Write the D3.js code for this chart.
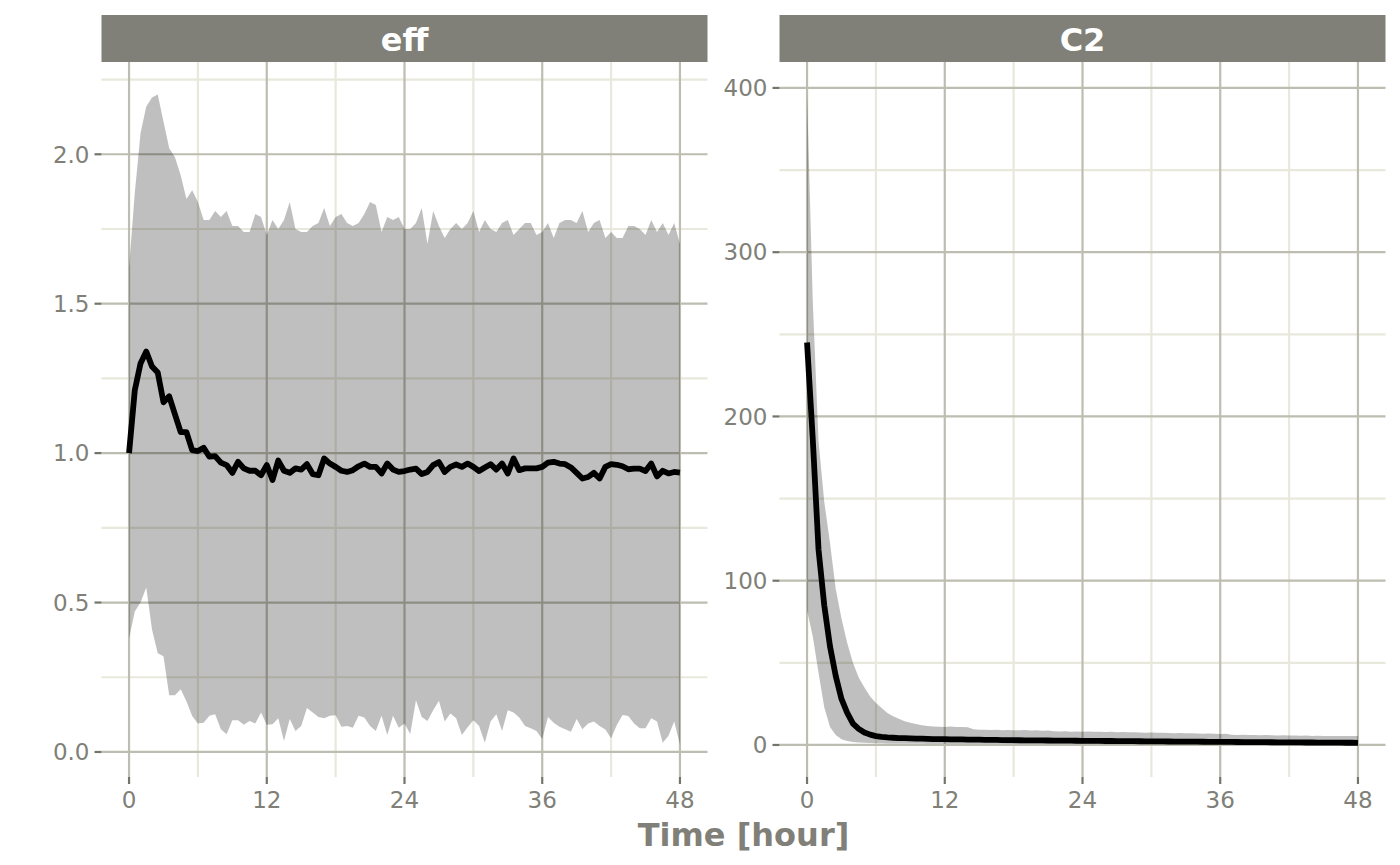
<!DOCTYPE html>
<html>
<head>
<meta charset="utf-8">
<script src="https://cdn.jsdelivr.net/npm/d3@7"></script>
<style>
  body { margin: 0; background: #ffffff; }
  text { font-family: "DejaVu Sans", sans-serif; }
</style>
</head>
<body>
<div id="wrapper"></div>
<script>
// sampling grid (hours)
const timeHours = d3.range(0, 48.5, 0.5)

// eff panel: 90% band and median, one row = 6 hours
const effUpper = [
  1.62, 1.87, 2.07, 2.16, 2.19, 2.20, 2.11, 2.02, 1.99, 1.93, 1.85, 1.88,
  1.84, 1.78, 1.78, 1.81, 1.79, 1.81, 1.76, 1.76, 1.74, 1.74, 1.80, 1.79,
  1.73, 1.78, 1.75, 1.78, 1.84, 1.75, 1.74, 1.74, 1.76, 1.77, 1.82, 1.76,
  1.79, 1.80, 1.77, 1.76, 1.77, 1.80, 1.84, 1.83, 1.74, 1.79, 1.78, 1.79,
  1.75, 1.75, 1.77, 1.82, 1.70, 1.81, 1.76, 1.72, 1.75, 1.77, 1.75, 1.77,
  1.81, 1.74, 1.78, 1.75, 1.74, 1.77, 1.78, 1.73, 1.75, 1.77, 1.77, 1.73,
  1.74, 1.77, 1.72, 1.77, 1.78, 1.78, 1.77, 1.81, 1.74, 1.77, 1.78, 1.72,
  1.74, 1.72, 1.72, 1.76, 1.76, 1.75, 1.73, 1.78, 1.74, 1.77, 1.73, 1.77,
  1.70
]
const effMedian = [
  1.00, 1.21, 1.30, 1.34, 1.29, 1.27, 1.17, 1.19, 1.13, 1.07, 1.07, 1.01,
  1.007, 1.018, 0.988, 0.990, 0.968, 0.960, 0.934, 0.971, 0.949, 0.941, 0.941, 0.926,
  0.960, 0.910, 0.975, 0.941, 0.934, 0.949, 0.945, 0.963, 0.930, 0.926, 0.982, 0.965,
  0.954, 0.941, 0.937, 0.943, 0.956, 0.965, 0.954, 0.954, 0.932, 0.965, 0.945, 0.937,
  0.940, 0.945, 0.948, 0.930, 0.937, 0.960, 0.970, 0.937, 0.954, 0.962, 0.954, 0.965,
  0.954, 0.940, 0.952, 0.963, 0.945, 0.965, 0.932, 0.982, 0.943, 0.949, 0.949, 0.949,
  0.954, 0.968, 0.971, 0.965, 0.963, 0.952, 0.934, 0.915, 0.920, 0.934, 0.915, 0.954,
  0.963, 0.961, 0.956, 0.946, 0.948, 0.948, 0.940, 0.965, 0.922, 0.941, 0.932, 0.937,
  0.935
]
const effLower = [
  0.38, 0.47, 0.50, 0.55, 0.41, 0.33, 0.32, 0.19, 0.19, 0.21, 0.17, 0.12,
  0.095, 0.098, 0.121, 0.126, 0.076, 0.059, 0.106, 0.106, 0.091, 0.104, 0.095, 0.132,
  0.091, 0.093, 0.113, 0.037, 0.110, 0.070, 0.087, 0.147, 0.132, 0.117, 0.113, 0.121,
  0.123, 0.084, 0.087, 0.081, 0.121, 0.115, 0.087, 0.070, 0.121, 0.057, 0.121, 0.081,
  0.095, 0.060, 0.173, 0.117, 0.104, 0.140, 0.171, 0.102, 0.129, 0.113, 0.057, 0.083,
  0.106, 0.087, 0.031, 0.102, 0.126, 0.070, 0.140, 0.132, 0.115, 0.087, 0.079, 0.070,
  0.043, 0.117, 0.098, 0.084, 0.076, 0.068, 0.110, 0.076, 0.095, 0.102, 0.087, 0.075,
  0.046, 0.090, 0.124, 0.120, 0.095, 0.079, 0.079, 0.113, 0.102, 0.031, 0.054, 0.102,
  0.025
]

// C2 panel
const c2Upper = [
  396, 270, 185, 148, 123, 95, 77, 62, 50, 41, 35, 29.5,
  25.5, 22.5, 19.5, 17.5, 16, 14.5, 13.5, 12.8, 12, 11.5, 11.2, 11.1,
  11.0, 11.2, 10.9, 11.0, 10.8, 9.6, 9.2, 9.3, 9.1, 9.2, 9.0, 9.1,
  9.0, 8.9, 9.1, 8.8, 8.9, 8.7, 8.8, 8.4, 8.2, 8.3, 8.1, 8.2,
  8.1, 8.2, 8.0, 8.1, 7.9, 8.0, 7.8, 7.9, 7.7, 7.8, 7.6, 7.5,
  7.6, 7.4, 7.5, 7.3, 7.2, 7.3, 7.1, 7.2, 7.0, 6.9, 7.0, 6.8,
  6.7, 6.8, 6.2, 6.1, 6.2, 6.0, 6.1, 5.9, 6.0, 5.9, 5.8, 5.9,
  5.7, 5.8, 5.6, 5.7, 5.5, 5.6, 5.5, 5.4, 5.5, 5.4, 5.5, 5.4,
  5.4
]
const c2Median = [
  245, 186, 119, 85, 60, 42, 28, 19.5, 13, 9.8, 7.6, 6.3,
  5.4, 4.9, 4.6, 4.4, 4.2, 4.1, 4.0, 3.9, 3.8, 3.7, 3.6, 3.55,
  3.5, 3.45, 3.4, 3.35, 3.3, 3.25, 3.2, 3.15, 3.1, 3.05, 3.0, 2.95,
  2.9, 2.87, 2.84, 2.81, 2.78, 2.75, 2.72, 2.69, 2.66, 2.63, 2.6, 2.57,
  2.54, 2.51, 2.48, 2.45, 2.42, 2.4, 2.37, 2.34, 2.31, 2.28, 2.25, 2.23,
  2.2, 2.17, 2.14, 2.12, 2.09, 2.06, 2.03, 2.0, 1.98, 1.95, 1.92, 1.9,
  1.87, 1.85, 1.82, 1.8, 1.77, 1.75, 1.72, 1.7, 1.67, 1.65, 1.62, 1.6,
  1.58, 1.56, 1.53, 1.51, 1.49, 1.47, 1.45, 1.42, 1.4, 1.38, 1.36, 1.34,
  1.32
]
const c2Lower = [
  82, 66, 44, 23, 11, 6, 3.5, 2.4, 1.8, 1.5, 1.3, 1.15,
  1.05, 1.0, 0.95, 0.92, 0.9, 0.88, 0.86, 0.84, 0.82, 0.8, 0.79, 0.78,
  0.77, 0.76, 0.75, 0.74, 0.73, 0.72, 0.71, 0.7, 0.69, 0.68, 0.67, 0.66,
  0.65, 0.64, 0.63, 0.62, 0.61, 0.6, 0.59, 0.58, 0.57, 0.56, 0.55, 0.54,
  0.54, 0.53, 0.52, 0.51, 0.5, 0.5, 0.49, 0.48, 0.47, 0.47, 0.46, 0.45,
  0.45, 0.44, 0.43, 0.43, 0.42, 0.41, 0.41, 0.4, 0.4, 0.39, 0.38, 0.38,
  0.37, 0.37, 0.36, 0.36, 0.35, 0.35, 0.34, 0.34, 0.33, 0.33, 0.33, 0.32,
  0.32, 0.31, 0.31, 0.31, 0.3, 0.3, 0.3, 0.29, 0.29, 0.29, 0.28, 0.28,
  0.28
]

// axes
const xTicks = [0, 12, 24, 36, 48]
const xMinorTicks = [6, 18, 30, 42]
const effYTicks = [0, 0.5, 1.0, 1.5, 2.0]
const effYMinorTicks = [0.25, 0.75, 1.25, 1.75, 2.25]
const c2YTicks = [0, 100, 200, 300, 400]
const c2YMinorTicks = [50, 150, 250, 350]
const panelNames = ["eff", "C2"]
const xTitle = "Time [hour]"

function drawChart() {

    const dimensions = {
        width: 1400,
        height: 865,
        stripTop: 15,
        panelTop: 62,
        panelBottom: 777,
        panelLefts: [101.5, 779.5],
        panelWidth: 606,
        tickLength: 7,
    }

    const colors = {
        strip: "#808078",
        text: "#808078",
        tick: "#74746c",
        major: "#bdbdb1",
        minor: "#e8e8dc",
    }

    const wrapper = d3.select("#wrapper")
        .append("svg")
        .attr("width", dimensions.width)
        .attr("height", dimensions.height)

    const panels = [
        { name: panelNames[0], upper: effUpper, median: effMedian, lower: effLower,
          ticks: effYTicks, minor: effYMinorTicks, format: d3.format(".1f") },
        { name: panelNames[1], upper: c2Upper, median: c2Median, lower: c2Lower,
          ticks: c2YTicks, minor: c2YMinorTicks, format: d3.format("d") },
    ]

    // ggplot style 5% expansion on x
    const xScaleBase = [0, 48]
    const xPad = (xScaleBase[1] - xScaleBase[0]) * 0.05

    panels.forEach((p, i) => {
        const left = dimensions.panelLefts[i]
        const right = left + dimensions.panelWidth

        const xScale = d3.scaleLinear()
            .domain([xScaleBase[0] - xPad, xScaleBase[1] + xPad])
            .range([left, right])

        const yMin = d3.min(p.lower)
        const yMax = d3.max(p.upper)
        const yPad = (yMax - yMin) * 0.05
        const yScale = d3.scaleLinear()
            .domain([yMin - yPad, yMax + yPad])
            .range([dimensions.panelBottom, dimensions.panelTop])

        const g = wrapper.append("g").attr("class", "panel-" + p.name)

        // grid
        g.selectAll(".minor-x")
            .data(xMinorTicks)
            .join("line")
            .attr("x1", d => xScale(d)).attr("x2", d => xScale(d))
            .attr("y1", dimensions.panelTop).attr("y2", dimensions.panelBottom)
            .attr("stroke", colors.minor).attr("stroke-width", 2.2)
        g.selectAll(".minor-y")
            .data(p.minor)
            .join("line")
            .attr("x1", left).attr("x2", right)
            .attr("y1", d => yScale(d)).attr("y2", d => yScale(d))
            .attr("stroke", colors.minor).attr("stroke-width", 2.2)
        g.selectAll(".major-x")
            .data(xTicks)
            .join("line")
            .attr("x1", d => xScale(d)).attr("x2", d => xScale(d))
            .attr("y1", dimensions.panelTop).attr("y2", dimensions.panelBottom)
            .attr("stroke", colors.major).attr("stroke-width", 2.2)
        g.selectAll(".major-y")
            .data(p.ticks)
            .join("line")
            .attr("x1", left).attr("x2", right)
            .attr("y1", d => yScale(d)).attr("y2", d => yScale(d))
            .attr("stroke", colors.major).attr("stroke-width", 2.2)

        const rows = timeHours.map((t, j) => ({
            t: t, lo: p.lower[j], hi: p.upper[j], mid: p.median[j]
        }))

        // ribbon
        const area = d3.area()
            .x(d => xScale(d.t))
            .y0(d => yScale(d.lo))
            .y1(d => yScale(d.hi))
        g.append("path")
            .datum(rows)
            .attr("d", area)
            .attr("fill", "#000000")
            .attr("fill-opacity", 0.25)

        // median line
        const line = d3.line()
            .x(d => xScale(d.t))
            .y(d => yScale(d.mid))
        g.append("path")
            .datum(rows)
            .attr("d", line)
            .attr("fill", "none")
            .attr("stroke", "#000000")
            .attr("stroke-width", 5.8)
            .attr("stroke-linejoin", "round")

        // y ticks and labels
        g.selectAll(".y-tick")
            .data(p.ticks)
            .join("line")
            .attr("x1", left - dimensions.tickLength).attr("x2", left)
            .attr("y1", d => yScale(d)).attr("y2", d => yScale(d))
            .attr("stroke", colors.tick).attr("stroke-width", 2.2)
        g.selectAll(".y-label")
            .data(p.ticks)
            .join("text")
            .attr("x", left - dimensions.tickLength - 5)
            .attr("y", d => yScale(d) + 8.3)
            .attr("text-anchor", "end")
            .attr("font-size", 23)
            .attr("fill", colors.text)
            .text(p.format)

        // x ticks and labels
        g.selectAll(".x-tick")
            .data(xTicks)
            .join("line")
            .attr("x1", d => xScale(d)).attr("x2", d => xScale(d))
            .attr("y1", dimensions.panelBottom)
            .attr("y2", dimensions.panelBottom + dimensions.tickLength)
            .attr("stroke", colors.tick).attr("stroke-width", 2.2)
        g.selectAll(".x-label")
            .data(xTicks)
            .join("text")
            .attr("x", d => xScale(d))
            .attr("y", dimensions.panelBottom + 31)
            .attr("text-anchor", "middle")
            .attr("font-size", 23)
            .attr("fill", colors.text)
            .text(d => d)

        // strip
        g.append("rect")
            .attr("x", left)
            .attr("y", dimensions.stripTop)
            .attr("width", dimensions.panelWidth)
            .attr("height", dimensions.panelTop - dimensions.stripTop)
            .attr("fill", colors.strip)
        g.append("text")
            .attr("x", (left + right) / 2)
            .attr("y", 51)
            .attr("text-anchor", "middle")
            .attr("font-size", 32)
            .attr("font-weight", "bold")
            .attr("fill", "#ffffff")
            .text(p.name)
    })

    // shared x axis title
    wrapper.append("text")
        .attr("x", (dimensions.panelLefts[0] + dimensions.panelLefts[1] + dimensions.panelWidth) / 2)
        .attr("y", 846)
        .attr("text-anchor", "middle")
        .attr("font-size", 32)
        .attr("font-weight", "bold")
        .attr("fill", colors.text)
        .text(xTitle)
}

drawChart()
</script>
</body>
</html>
